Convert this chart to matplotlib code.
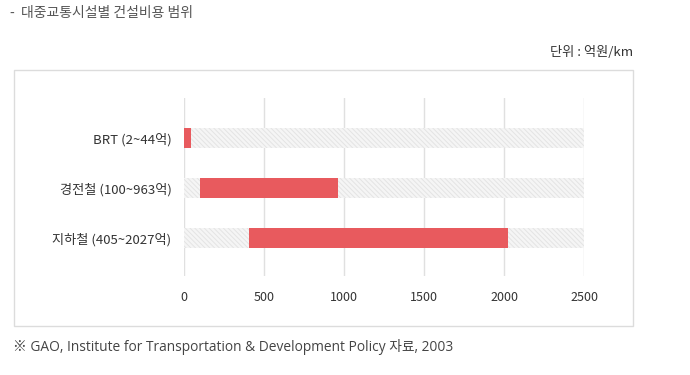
import matplotlib
matplotlib.use("Agg")
import matplotlib.pyplot as plt
from matplotlib.patches import Rectangle

plt.rcParams['font.family'] = ['Noto Sans CJK KR', 'DejaVu Sans']
plt.rcParams['hatch.linewidth'] = 0.7

categories = ['BRT (2~44억)', '경전철 (100~963억)', '지하철 (405~2027억)']
low = [2, 100, 405]
high = [44, 963, 2027]
xmax = 2500
xticks = [0, 500, 1000, 1500, 2000, 2500]

W, H = 690, 375
fig = plt.figure(figsize=(W/100, H/100), dpi=100)

# outer box
box = Rectangle((14/W, 1-326/H), (633-14)/W, (326-70)/H,
                transform=fig.transFigure, facecolor='white',
                edgecolor='#dcdcdc', linewidth=1, zorder=-1)
fig.patches.append(box)

ax = fig.add_axes([184/W, 1-276/H, 400/W, 178/H])
ax.set_facecolor('none')
y = list(range(len(categories)))
ax.barh(y, [xmax]*len(y), height=0.4, color='#f5f5f5', edgecolor='#e4e4e4',
        linewidth=0, hatch='\\' * 7, zorder=1)
ax.barh(y, [h - l for l, h in zip(low, high)], left=low, height=0.4,
        color='#E85A5E', edgecolor='none', zorder=2)
ax.set_xlim(0, xmax)
ax.set_ylim(2.76, -0.8)
ax.set_xticks(xticks)
ax.set_xticklabels([str(t) for t in xticks], fontsize=9, color='#333333')
ax.set_yticks(y)
ax.set_yticklabels(categories, fontsize=9.5, color='#333333')
ax.tick_params(length=0)
ax.tick_params(axis='x', pad=11)
ax.tick_params(axis='y', pad=9)
for s in ax.spines.values():
    s.set_visible(False)
ax.grid(axis='x', color='#e0e0e0', linewidth=1, zorder=0)
ax.set_axisbelow(True)

fig.text(10/W, 1-13/H, '-  대중교통시설별 건설비용 범위', fontsize=10, color='#555555',
         va='center', ha='left')
fig.text(633/W, 1-52/H, '단위 : 억원/km', fontsize=9.5, color='#333333',
         va='center', ha='right')
fig.text(13/W, 1-347/H, '※ GAO, Institute for Transportation & Development Policy 자료, 2003',
         fontsize=9.9, color='#444444', va='center', ha='left',
         family=['Open Sans', 'Noto Sans CJK KR', 'DejaVu Sans'])

fig.savefig('out.png', dpi=100)
